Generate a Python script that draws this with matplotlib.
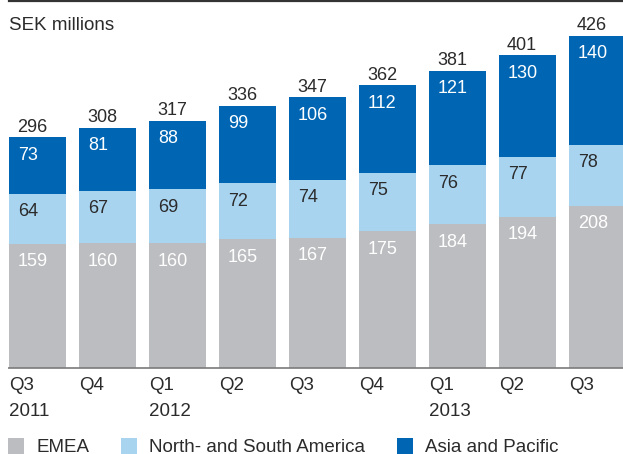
import matplotlib
matplotlib.use("Agg")
import matplotlib.pyplot as plt
from matplotlib.patches import Rectangle
from matplotlib.lines import Line2D

plt.rcParams['font.family'] = ['Liberation Sans', 'DejaVu Sans']

quarters = ["Q3", "Q4", "Q1", "Q2", "Q3", "Q4", "Q1", "Q2", "Q3"]
years = ["2011", "", "2012", "", "", "", "2013", "", ""]
emea = [159, 160, 160, 165, 167, 175, 184, 194, 208]
americas = [64, 67, 69, 72, 74, 75, 76, 77, 78]
asia = [73, 81, 88, 99, 106, 112, 121, 130, 140]
totals = [296, 308, 317, 336, 347, 362, 381, 401, 426]
series_names = ["EMEA", "North- and South America", "Asia and Pacific"]

c_gray = "#BCBDC0"
c_light = "#A9D4F0"
c_dark = "#0066B3"
c_text = "#2b2b2b"

W, H = 623, 454
fig = plt.figure(figsize=(W / 100, H / 100), dpi=100)
ax = fig.add_axes([0, 0, 1, 1])
ax.set_axis_off()

pitch = 70.0
bar_px = 57.0
x0_px = 9 + bar_px / 2
base_px = 368.0
scale = 0.7804  # px per unit

ax.set_xlim((0 - x0_px) / pitch, (W - x0_px) / pitch)
ax.set_ylim(-(H - base_px) / scale, base_px / scale)

xs = list(range(len(quarters)))
width = bar_px / pitch
bottoms2 = [e + a for e, a in zip(emea, americas)]
ax.bar(xs, emea, width=width, color=c_gray, linewidth=0)
ax.bar(xs, americas, width=width, bottom=emea, color=c_light, linewidth=0)
ax.bar(xs, asia, width=width, bottom=bottoms2, color=c_dark, linewidth=0)

fs = 13
fs_lab = 13.5
left_off = -width / 2
for i in xs:
    xl = i + left_off
    ax.annotate(str(emea[i]), (xl, emea[i]), xytext=(9, -18), textcoords="offset pixels",
                ha="left", va="center", color="white", fontsize=fs)
    ax.annotate(str(americas[i]), (xl, bottoms2[i]), xytext=(9, -18), textcoords="offset pixels",
                ha="left", va="center", color=c_text, fontsize=fs)
    ax.annotate(str(asia[i]), (xl, totals[i]), xytext=(9, -18), textcoords="offset pixels",
                ha="left", va="center", color="white", fontsize=fs)
    ax.annotate(str(totals[i]), (xl, totals[i]), xytext=(8, 10), textcoords="offset pixels",
                ha="left", va="center", color=c_text, fontsize=fs)
    ax.annotate(quarters[i], (xl, 0), xytext=(0, -18), textcoords="offset pixels",
                ha="left", va="center", color=c_text, fontsize=fs_lab)
    if years[i]:
        ax.annotate(years[i], (xl, 0), xytext=(0, -43), textcoords="offset pixels",
                    ha="left", va="center", color=c_text, fontsize=fs_lab)

ax.plot([(8 - x0_px) / pitch, (W - x0_px) / pitch], [0, 0], color="#7a7a7a", lw=1.2,
        solid_capstyle="butt")


def px(x, y):
    return x / W, 1 - y / H


fig.add_artist(Line2D([9 / W, 1], [1 - 1 / H, 1 - 1 / H], transform=fig.transFigure,
                      color="#333333", lw=1.6))
fig.text(*px(9, 25), "SEK millions", ha="left", va="center", fontsize=13.5, color=c_text)

legend_items = [(8, 36, c_gray), (121, 149, c_light), (397, 425, c_dark)]
for (sx, tx, col), name in zip(legend_items, series_names):
    fig.add_artist(Rectangle(px(sx, 454), 16 / W, 16 / H, transform=fig.transFigure,
                             facecolor=col, edgecolor="none"))
    fig.text(*px(tx, 447), name, ha="left", va="center", fontsize=fs_lab, color=c_text)

fig.savefig("out.png", dpi=100)
